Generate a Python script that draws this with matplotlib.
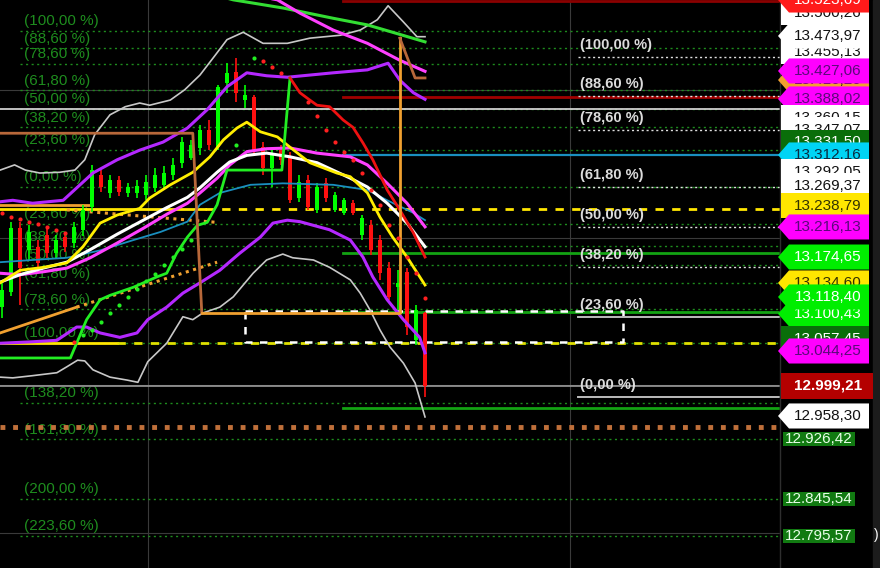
import matplotlib.pyplot as plt
from matplotlib.patches import Polygon, Rectangle

plt.rcParams['font.family'] = ['Liberation Sans', 'DejaVu Sans']

# ---- candles (one per bar, index 0..47) ----
opens = [13106.2, 13126.6, 13213.4, 13183.6, 13187.6, 13203.9, 13179.5, 13201.2, 13193.0, 13210.7,
         13241.8, 13285.3, 13260.9, 13278.5, 13260.9, 13260.9, 13258.2, 13267.7, 13271.8, 13285.3,
         13301.6, 13308.4, 13322.0, 13346.4, 13323.3, 13410.2, 13425.1, 13387.1, 13391.2, 13323.3,
         13294.8, 13319.3, 13309.8, 13254.1, 13278.5, 13237.8, 13274.5, 13237.8, 13233.7, 13247.3,
         13203.9, 13217.5, 13197.1, 13159.1, 13133.3, 13153.7, 13061.4, 13098.1]
highs = [13138.8, 13221.5, 13221.5, 13217.5, 13197.1, 13213.4, 13203.9, 13208.0, 13221.5, 13244.6,
         13298.9, 13292.1, 13285.3, 13283.9, 13274.5, 13278.5, 13285.3, 13294.8, 13297.5, 13308.4,
         13336.9, 13332.8, 13353.2, 13360.0, 13407.4, 13437.3, 13444.1, 13407.4, 13393.9, 13330.1,
         13319.3, 13326.0, 13316.5, 13285.3, 13285.3, 13274.5, 13281.2, 13262.3, 13254.1, 13251.4,
         13231.0, 13224.3, 13203.9, 13167.3, 13156.4, 13159.1, 13108.9, 13099.4]
lows = [13091.3, 13121.1, 13108.9, 13170.0, 13156.4, 13172.7, 13172.7, 13180.8, 13186.3, 13202.5,
        13235.1, 13262.3, 13254.1, 13256.8, 13255.5, 13254.1, 13251.4, 13262.3, 13265.0, 13278.5,
        13294.8, 13305.7, 13312.5, 13319.3, 13319.3, 13396.6, 13384.4, 13376.2, 13312.5, 13285.3,
        13269.0, 13298.9, 13247.3, 13248.7, 13237.8, 13233.7, 13248.7, 13235.1, 13231.0, 13231.0,
        13197.1, 13176.8, 13142.8, 13115.7, 13102.1, 13068.2, 13054.6, 12984.1]
closes = [13129.3, 13213.4, 13159.1, 13208.0, 13165.9, 13179.5, 13197.1, 13187.6, 13214.8, 13237.8,
          13292.1, 13269.0, 13278.5, 13262.3, 13269.0, 13270.4, 13275.8, 13285.3, 13288.0, 13298.9,
          13330.1, 13326.0, 13346.4, 13326.0, 13404.7, 13423.7, 13396.6, 13393.9, 13319.3, 13294.8,
          13315.2, 13305.7, 13251.4, 13275.8, 13241.8, 13269.0, 13254.1, 13258.2, 13251.4, 13233.7,
          13226.9, 13183.6, 13152.3, 13119.8, 13138.8, 13079.1, 13102.1, 12999.2]

# ---- indicator lines (bar index, price) ----
bb_grey_up_x = [-0.2, 1.4, 2.6, 4.2, 6.4, 8.1, 9.2, 10.3, 12.0, 13.7, 15.3, 16.4, 18.7, 20.3, 22.0, 23.7,
                25.0, 26.8, 29.0, 31.7, 34.2, 37.6, 39.8, 41.7, 42.9, 44.6, 46.1, 47.0]
bb_grey_up_y = [13292, 13299, 13292, 13288, 13289, 13292, 13306, 13340, 13367, 13378, 13383, 13380, 13387,
                13401, 13421, 13448, 13469, 13479, 13464, 13464, 13471, 13475, 13482, 13496, 13515, 13493,
                13473, 13473]
bb_grey_lo_x = [-0.2, 1.2, 3.4, 6.1, 7.2, 8.4, 9.2, 10.1, 12.0, 13.9, 15.1, 16.2, 18.3, 20.1, 21.2, 22.3,
                24.2, 25.7, 27.9, 29.4, 31.2, 32.3, 34.6, 36.4, 38.7, 39.8, 40.9, 42.0, 43.1, 44.6, 45.9, 47.0]
bb_grey_lo_y = [13011, 13010, 13013, 13017, 13025, 13034, 13033, 13021, 13011, 13007, 13004, 13032, 13057,
                13093, 13089, 13098, 13106, 13120, 13152, 13170, 13178, 13173, 13170, 13160, 13143, 13125,
                13102, 13075, 13052, 13030, 13003, 12957]
bb_vio_up_x = [-0.2, 1.2, 3.4, 6.8, 10.1, 12.8, 15.3, 17.9, 20.6, 22.8, 25.0, 27.2, 29.4, 31.7, 36.8, 40.6,
               42.9, 44.2, 45.7, 47.0]
bb_vio_up_y = [13249, 13251, 13247, 13251, 13288, 13306, 13319, 13330, 13349, 13374, 13405, 13424, 13420,
               13418, 13424, 13428, 13437, 13414, 13397, 13388]
bb_vio_lo_x = [-0.2, 3.4, 6.1, 8.3, 9.4, 10.9, 13.1, 15.0, 16.2, 18.3, 20.1, 22.0, 24.2, 26.4, 28.7, 30.1,
               31.7, 33.1, 36.4, 38.7, 40.1, 41.2, 42.8, 44.6, 46.4, 47.0]
bb_vio_lo_y = [13057, 13059, 13061, 13079, 13079, 13071, 13065, 13071, 13089, 13106, 13125, 13139, 13156,
               13179, 13201, 13220, 13224, 13222, 13211, 13197, 13174, 13147, 13116, 13089, 13065, 13044]
avg_x = [-0.2, 2.0, 4.6, 7.2, 9.8, 12.8, 15.7, 18.3, 20.6, 22.0, 23.9, 25.3, 27.2, 29.4, 32.0, 35.0, 38.7,
         40.6, 42.8, 45.0, 47.0]
white_y = [13140, 13150, 13159, 13167, 13184, 13205, 13224, 13241, 13255, 13268, 13289, 13303, 13312, 13315,
           13310, 13302, 13281, 13269, 13247, 13220, 13188]
mag_y = [13152, 13150, 13154, 13159, 13173, 13193, 13213, 13232, 13247, 13261, 13281, 13299, 13317, 13321,
         13322, 13315, 13310, 13299, 13274, 13247, 13215]
teal_x = [-0.2, 3.4, 7.2, 10.9, 14.6, 17.6, 20.6, 22.0, 24.2, 27.6, 31.2, 36.8, 40.6, 42.8, 45.7, 47.0]
teal_y = [13167, 13170, 13173, 13183, 13197, 13208, 13222, 13245, 13261, 13272, 13274, 13272, 13265, 13251,
          13234, 13224]
yel_x = [-0.2, 2.0, 4.6, 7.2, 9.0, 10.9, 12.8, 15.3, 16.4, 18.7, 21.2, 23.1, 24.6, 26.1, 27.2, 28.7, 30.6,
         32.0, 34.2, 37.2, 38.7, 40.6, 42.0, 43.4, 45.0, 47.0]
yel_y = [13139, 13156, 13160, 13166, 13188, 13220, 13231, 13240, 13254, 13272, 13289, 13310, 13333, 13349,
         13357, 13344, 13337, 13323, 13302, 13288, 13283, 13261, 13228, 13201, 13174, 13136]
st_up_x = [-0.2, 7.6, 9.4, 10.9, 12.0, 14.6, 17.2, 18.3, 19.4, 20.6, 21.7, 22.8, 23.9, 25.0, 31.1, 32.0]
st_up_y = [13037, 13037, 13089, 13116, 13122, 13133, 13147, 13152, 13179, 13201, 13217, 13221, 13245, 13292,
           13292, 13417]
st_dn_x = [32.0, 33.1, 34.2, 35.0, 36.4, 37.9, 39.0, 40.1, 41.2, 42.8, 44.2, 45.7, 47.0]
st_dn_y = [13417, 13397, 13387, 13380, 13378, 13360, 13350, 13329, 13306, 13265, 13238, 13207, 13174]
top_green_x = [22.0, 25.7, 31.2, 36.8, 40.6, 43.4, 47.0]
top_green_y = [13535, 13523, 13512, 13498, 13489, 13479, 13466]
top_mag_x = [27.6, 30.6, 33.1, 36.8, 40.6, 44.2, 47.0]
top_mag_y = [13530, 13523, 13505, 13482, 13464, 13441, 13426]
brown_x = [-0.2, 21.2, 22.2]
brown_y = [13342, 13342, 13098]
orange_x = [22.2, 44.2, 44.2]
orange_y = [13098, 13098, 13471]
brown2_x = [44.2, 45.9, 47.0]
brown2_y = [13471, 13417, 13417]

# parabolic SAR dots
sar_red_x = [0, 1, 2, 3, 4, 5, 6, 7, 8, 29, 30, 31, 34, 35, 36, 37, 38, 39, 40, 41, 42, 43, 44, 45, 46, 47]
sar_red_y = [13234, 13228, 13226, 13222, 13219, 13215, 13211, 13207, 13059, 13440, 13432, 13424, 13384,
             13365, 13346, 13330, 13317, 13306, 13288, 13265, 13245, 13217, 13200, 13174, 13152, 13118]
sar_green_x = [9, 10, 11, 12, 13, 14, 15, 16, 17, 18, 19, 20, 21, 26, 28]
sar_green_y = [13068, 13075, 13086, 13098, 13109, 13120, 13131, 13141, 13151, 13163, 13174, 13185, 13197,
               13326, 13444]

# ---- fibonacci levels ----
fib_base = 13269.37
fib_range = 211.9
fib_up_pct = [0, 23.6, 38.2, 50, 61.8, 78.6, 88.6, 100]
fib_dn_pct = [23.6, 38.2, 50, 61.8, 78.6, 100, 138.2, 161.8, 200, 223.6]
fib2_low = 12984.0
fib2_high = 13445.5
fib2_pct = [100, 88.6, 78.6, 61.8, 50, 38.2, 23.6, 0]

# right-hand price tags: (display price, text, background, text colour, arrow)
tags = [
    (13505.2, '13.500,26', 'white', '#111111', False),
    (13522.8, '13.523,69', '#ff1a1a', 'white', True),
    (13452.3, '13.455,13', 'white', '#111111', False),
    (13474.0, '13.473,97', 'white', '#111111', True),
    (13414.2, '13.416,20', '#f0a030', '#111111', True),
    (13426.5, '13.427,06', '#ff00ff', '#5a0a7a', True),
    (13388.5, '13.388,02', '#ff00ff', '#5a0a7a', True),
    (13362.7, '13.360,15', 'white', '#111111', False),
    (13346.4, '13.347,07', 'white', '#111111', False),
    (13330.0, '13.331,50', '#0a6e0a', 'white', False),
    (13312.5, '13.312,16', '#00d4f5', '#0a2a40', True),
    (13289.4, '13.292,05', 'white', '#111111', False),
    (13270.4, '13.269,37', 'white', '#111111', False),
    (13243.3, '13.238,79', '#ffe600', '#333300', False),
    (13214.8, '13.216,13', '#ff00ff', '#5a0a7a', True),
    (13138.8, '13.134,60', '#ffe600', '#333300', True),
    (13174.0, '13.174,65', '#00ee00', 'white', True),
    (13097.0, '13.100,43', '#00ee00', 'white', True),
    (13119.8, '13.118,40', '#00ee00', 'white', True),
    (13062.8, '13.057,45', '#0a6e0a', 'white', False),
    (13046.5, '13.044,25', '#ff00ff', '#5a0a7a', True),
    (12999.0, '12.999,21', '#b40000', 'white', False),
    (12958.3, '12.958,30', 'white', '#111111', True),
]
small_tags = [(12927.1, '12.926,42'), (12845.7, '12.845,54'), (12795.4, '12.795,57')]

ymin, ymax = 12752.0, 13522.8
xmin, xmax = -0.22, 86.44

fig = plt.figure(figsize=(8.8, 5.68), dpi=100, facecolor='black')
ax = fig.add_axes([0, 0, 780 / 880, 1])
ax.set_facecolor('black')
ax.set_xlim(xmin, xmax)
ax.set_ylim(ymin, ymax)
ax.axis('off')

# grid
for g in [12800, 13000, 13200, 13400]:
    ax.axhline(g, color='#3a3a3a', lw=0.8, zorder=0)
for g in [16.2, 63.1]:
    ax.axvline(g, color='#3a3a3a', lw=0.8, zorder=0)

# fib set 1 (green, left labels)
for pc in fib_up_pct:
    lv = fib_base + fib_range * pc / 100
    ax.plot([2, xmax], [lv, lv], color='#1e8c1e', lw=1, ls=(0, (1.5, 2.5)), zorder=1)
    ax.text(2.5, lv + 13, '(%s %%)' % ('%.2f' % pc).replace('.', ','), color='#1e8c1e',
            fontsize=11, va='center', ha='left', zorder=1)
for pc in fib_dn_pct:
    lv = fib_base - fib_range * pc / 100
    ax.plot([2, xmax], [lv, lv], color='#1e8c1e', lw=1, ls=(0, (1.5, 2.5)), zorder=1)
    ax.text(2.5, lv + 13, '(%s %%)' % ('%.2f' % pc).replace('.', ','), color='#1e8c1e',
            fontsize=11, va='center', ha='left', zorder=1)

# horizontal levels
ax.axhline(13375, color='#cfcfcf', lw=1.3, zorder=2)
ax.axhline(12999.2, color='#9a9a9a', lw=1.2, zorder=2)
ax.plot([37.9, xmax], [13521, 13521], color='#8a0000', lw=2, zorder=2)
ax.plot([37.9, xmax], [13391, 13391], color='#a00000', lw=2, zorder=2)
ax.plot([37.9, xmax], [13312.2, 13312.2], color='#1a8fbf', lw=1.6, zorder=2)
for lv in [13179, 13100, 12969]:
    ax.plot([37.9, xmax], [lv, lv], color='#13a313', lw=2, zorder=2)
ax.axhline(12943.4, color='#c0703a', lw=3.5, ls=(0, (1, 1.6)), zorder=2)
ax.plot([-0.2, 22.6], [13238.8, 13238.8], color='#ffe600', lw=2, zorder=2)
ax.plot([22.6, xmax], [13238.8, 13238.8], color='#ffe600', lw=2, ls=(0, (3, 3)), zorder=2)
ax.plot([-0.2, 9.8], [13244, 13244], color='#f0a030', lw=2, zorder=2)
ax.plot([-0.2, 12.8], [13057.4, 13057.4], color='#ffe600', lw=2, zorder=2)
ax.plot([12.8, xmax], [13057.4, 13057.4], color='#e0e000', lw=2, ls=(0, (3, 3)), zorder=2)
# white dashed box
ax.plot([27.0, 69.0, 69.0, 27.0, 27.0], [13101, 13101, 13058.7, 13058.7, 13101], color='white',
        lw=1.8, ls=(0, (3, 3)), zorder=3)
# orange trend lines
ax.plot([7.2, 23.9], [13238, 13221], color='#f0a030', lw=2.2, ls=(0, (1, 1.5)), zorder=3)
ax.plot([-0.2, 8.3], [13071, 13106], color='#f0a030', lw=2, zorder=3)
ax.plot([8.3, 23.9], [13106, 13167], color='#f0a030', lw=2.2, ls=(0, (1, 1.5)), zorder=3)

# fib set 2 (white, right labels)
for pc in fib2_pct:
    lv = fib2_low + (fib2_high - fib2_low) * pc / 100
    if pc in (0, 23.6):
        ax.plot([64.0, xmax], [lv, lv], color='#bdbdbd', lw=1.4, zorder=3)
    else:
        ax.plot([64.0, xmax], [lv, lv], color='#e0e0e0', lw=1, ls=(0, (1.5, 2)), zorder=3)
    ax.text(64.2, lv + 16, '(%s %%)' % ('%.2f' % pc).replace('.', ','), color='#dcdcdc',
            fontsize=10.5, fontweight='bold', va='center', ha='left', zorder=3)

# candles
for i in range(len(opens)):
    col = '#00ff00' if closes[i] >= opens[i] else '#ff1010'
    ax.vlines(i, lows[i], highs[i], color=col, lw=1.2, zorder=4)
    lo = min(opens[i], closes[i])
    hi = max(opens[i], closes[i])
    ax.bar(i, max(hi - lo, 2.5), 0.45, bottom=lo, color=col, zorder=4)

# indicators
ax.plot(bb_grey_up_x, bb_grey_up_y, color='#c8c8c8', lw=1.2, zorder=5)
ax.plot(bb_grey_lo_x, bb_grey_lo_y, color='#c8c8c8', lw=1.2, zorder=5)
ax.plot(teal_x, teal_y, color='#1a8fbf', lw=1.3, zorder=5)
ax.plot(bb_vio_up_x, bb_vio_up_y, color='#b428ff', lw=2.2, zorder=5)
ax.plot(bb_vio_lo_x, bb_vio_lo_y, color='#b428ff', lw=2.2, zorder=5)
ax.plot(avg_x, mag_y, color='#ff40ff', lw=2.2, zorder=5)
ax.plot(avg_x, white_y, color='white', lw=2.2, zorder=5)
ax.plot(yel_x, yel_y, color='#ffee00', lw=2, zorder=5)
ax.plot(st_up_x, st_up_y, color='#22ee22', lw=2, zorder=5)
ax.plot(st_dn_x, st_dn_y, color='#ee1111', lw=2, zorder=5)
ax.plot(top_green_x, top_green_y, color='#33dd33', lw=2.2, zorder=5)
ax.plot(top_mag_x, top_mag_y, color='#ff40ff', lw=2.2, zorder=5)
ax.plot(brown_x, brown_y, color='#b8683a', lw=2, zorder=5)
ax.plot(orange_x, orange_y, color='#f0a030', lw=2, zorder=5)
ax.plot(brown2_x, brown2_y, color='#b8683a', lw=2, zorder=5)
ax.scatter(sar_red_x, sar_red_y, s=9, color='#ff2020', zorder=6, linewidths=0)
ax.scatter(sar_green_x, sar_green_y, s=9, color='#22ee22', zorder=6, linewidths=0)

# ---- right price panel ----
ax2 = fig.add_axes([776 / 880, 0, 104 / 880, 1])
ax2.set_xlim(776, 880)
ax2.set_ylim(ymin, ymax)
ax2.axis('off')
ax2.add_patch(Rectangle((780, ymin), 93, ymax - ymin, color='black', zorder=0))
ax2.add_patch(Rectangle((873, ymin), 7, ymax - ymin, color='#1c1c1c', zorder=0))
ax2.axvline(780, color='#2e2e2e', lw=1, zorder=0)

h = 17.0
for k, (p, txt, bg, fg, arrow) in enumerate(tags):
    if arrow:
        pts = [(778, p), (789, p + h), (869, p + h), (869, p - h), (789, p - h)]
    else:
        pts = [(781, p + h), (869, p + h), (869, p - h), (781, p - h)]
    if txt == '12.999,21':
        pts = [(781, p + h), (873, p + h), (873, p - h), (781, p - h)]
    ax2.add_patch(Polygon(pts, closed=True, facecolor=bg, edgecolor='none', zorder=1 + k * 0.01))
    ax2.text(828, p, txt, color=fg, fontsize=11, ha='center', va='center',
             fontweight='bold' if txt == '12.999,21' else 'normal', zorder=1 + k * 0.01 + 0.005)
for p, txt in small_tags:
    ax2.add_patch(Rectangle((783, p - 10), 72, 20, facecolor='#117a11', edgecolor='none', zorder=2))
    ax2.text(819, p, txt, color='#e8ffe8', fontsize=11, ha='center', va='center', zorder=2.1)
ax2.text(876, 12797, ')', color='white', fontsize=10, ha='center', va='center', zorder=2.1)

fig.savefig('out.png', dpi=100, facecolor='black')
